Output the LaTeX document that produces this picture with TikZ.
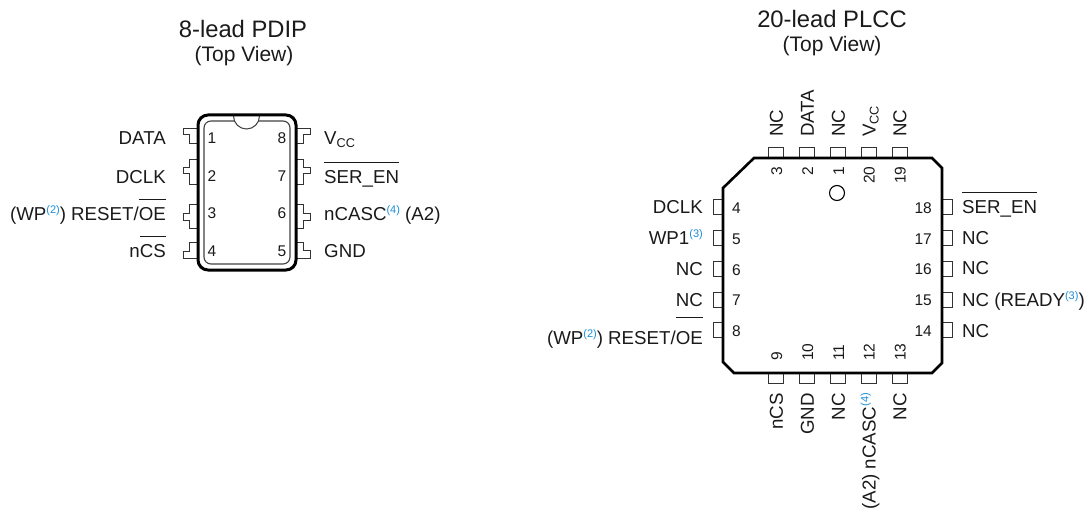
\documentclass[tikz,border=0pt]{standalone}
\usepackage{fontspec}
\setmainfont{Liberation Sans}
\definecolor{notecolor}{HTML}{1C8FD6}
\definecolor{inkcolor}{HTML}{1A1A1A}
\newcommand{\noteref}[1]{\raisebox{7pt}{\fontsize{11}{12}\selectfont\color{notecolor}(#1)}}
\newcommand{\lowcc}{\raisebox{-3pt}{\fontsize{12.7}{14}\selectfont CC}}
\newcommand{\barover}[2][7pt]{\vbox{\hrule height 1pt \kern #1 \hbox{#2}}}
\tikzset{
    pinlabel/.style={inner sep=0pt, text=inkcolor, font=\fontsize{18.7}{22}\selectfont},
    pinnumber/.style={inner sep=0pt, text=inkcolor, font=\fontsize{15.5}{18}\selectfont},
    headline/.style={inner sep=0pt, anchor=base, text=inkcolor, font=\fontsize{23.8}{28}\selectfont},
    subline/.style={inner sep=0pt, anchor=base, text=inkcolor, font=\fontsize{21}{25}\selectfont},
    lead/.style={draw=black!80, line width=1pt, line join=miter}
}
\begin{document}
\begin{tikzpicture}[x=1pt, y=-1pt]
    \useasboundingbox (0, 0) rectangle (1084, 508);

    % 8-lead package
    \node[headline] (diptitle) at (243, 38) {8-lead PDIP};
    \node[subline] (dipview) at (244, 62) {(Top View)};

    \draw[lead] (198, 129) -- (183, 129) -- (183, 135) -- (189, 135) -- (189, 144) -- (198, 144);
    \draw[lead] (198, 159) -- (189, 159) -- (189, 167) -- (183, 167) -- (183, 173) -- (189, 173) -- (189, 184) -- (198, 184);
    \draw[lead] (198, 204) -- (189, 204) -- (189, 213) -- (183, 213) -- (183, 220) -- (189, 220) -- (189, 228) -- (198, 228);
    \draw[lead] (198, 242) -- (189, 242) -- (189, 251) -- (183, 251) -- (183, 258) -- (198, 258);
    \draw[lead] (296, 129) -- (310, 129) -- (310, 135) -- (303, 135) -- (303, 144) -- (296, 144);
    \draw[lead] (296, 159) -- (303, 159) -- (303, 167) -- (310, 167) -- (310, 173) -- (303, 173) -- (303, 184) -- (296, 184);
    \draw[lead] (296, 204) -- (303, 204) -- (303, 213) -- (310, 213) -- (310, 220) -- (303, 220) -- (303, 228) -- (296, 228);
    \draw[lead] (296, 242) -- (303, 242) -- (303, 250) -- (310, 250) -- (310, 258) -- (296, 258);

    \draw[draw=black!75, line width=1.1pt, rounded corners=7pt] (204, 121) rectangle (290, 264);
    \draw[draw=black!75, fill=white, line width=1pt] (233.5, 116) arc (180:0:13);
    \draw[black, line width=3pt, rounded corners=10pt] (198, 115) rectangle (296, 270);

    \foreach \n/\py/\lab in {1/145/DATA, 2/183/DCLK, 3/220/{(WP\noteref{2}) RESET/\barover{OE}}, 4/257/{n\barover{CS}}}
        \node[pinlabel, anchor=base east] (dipleft\n) at (166, \py) {\lab};
    \foreach \n/\py/\lab in {8/145/{V\lowcc}, 7/183/{\barover{SER\_EN}}, 6/220/{nCASC\noteref{4} (A2)}, 5/257/GND}
        \node[pinlabel, anchor=base west] (dipright\n) at (324, \py) {\lab};
    \foreach \n/\py in {1/143, 2/181, 3/218.5, 4/256}
        \node[pinnumber, anchor=base] (dipnum\n) at (212, \py) {\n};
    \foreach \n/\py in {8/143, 7/181, 6/218.5, 5/256}
        \node[pinnumber, anchor=base] (dipnum\n) at (282, \py) {\n};

    % 20-lead package
    \node[headline] (plcctitle) at (832, 28) {20-lead PLCC};
    \node[subline] (plccview) at (832, 52) {(Top View)};

    \foreach \px in {776, 807, 838, 868.7, 899.5} {
        \draw[lead] (\px-7.5, 158) -- (\px-7.5, 148) -- (\px+7.5, 148) -- (\px+7.5, 158);
        \draw[lead] (\px-7.5, 373) -- (\px-7.5, 383) -- (\px+7.5, 383) -- (\px+7.5, 373);
    }
    \foreach \py in {207, 238, 269, 299.5, 330} {
        \draw[lead] (723, \py-7.5) -- (713, \py-7.5) -- (713, \py+7.5) -- (723, \py+7.5);
        \draw[lead] (942, \py-7.5) -- (952, \py-7.5) -- (952, \py+7.5) -- (942, \py+7.5);
    }
    \draw[black, line width=2.6pt, line join=miter] (754, 158) -- (932, 158) -- (942, 168) -- (942, 363) -- (932, 373) -- (734, 373) -- (723, 362) -- (723, 188) -- cycle;
    \draw[black, line width=1.1pt] (837, 193) circle (7.5);

    \foreach \n/\px/\lab in {3/776/NC, 2/807/DATA, 1/838/NC, 20/868.7/{V\lowcc}, 19/899.5/NC} {
        \node[pinlabel, rotate=90, anchor=base west] (plcctop\n) at (\px+6.8, 137) {\lab};
        \node[pinnumber, rotate=90, anchor=base east] (plccnum\n) at (\px+6, 166.5) {\n};
    }
    \foreach \n/\px/\lab in {9/776/nCS, 10/807/GND, 11/838/NC, 12/868.7/{(A2) nCASC\noteref{4}}, 13/899.5/NC} {
        \node[pinlabel, rotate=90, anchor=base east] (plccbot\n) at (\px+6.8, 393) {\lab};
        \node[pinnumber, rotate=90, anchor=base west] (plccnum\n) at (\px+6, 361) {\n};
    }
    \foreach \n/\py/\lab in {4/213/DCLK, 5/244/{WP1\noteref{3}}, 6/275/NC, 7/306/NC, 8/344/{(WP\noteref{2}) RESET/\barover[13pt]{OE}}} {
        \node[pinlabel, anchor=base east] (plccleft\n) at (703, \py) {\lab};
    }
    \foreach \n/\py in {4/213, 5/244, 6/275, 7/305, 8/336}
        \node[pinnumber, anchor=base west] (plccnum\n) at (732, \py) {\n};
    \foreach \n/\py/\lab in {18/213/{\barover{SER\_EN}}, 17/244/NC, 16/274/NC, 15/306/{NC (READY\noteref{3})}, 14/337/NC}
        \node[pinlabel, anchor=base west] (plccright\n) at (962, \py) {\lab};
    \foreach \n/\py in {18/213, 17/244, 16/274, 15/305, 14/336}
        \node[pinnumber, anchor=base east] (plccnum\n) at (932, \py) {\n};
\end{tikzpicture}
\end{document}
